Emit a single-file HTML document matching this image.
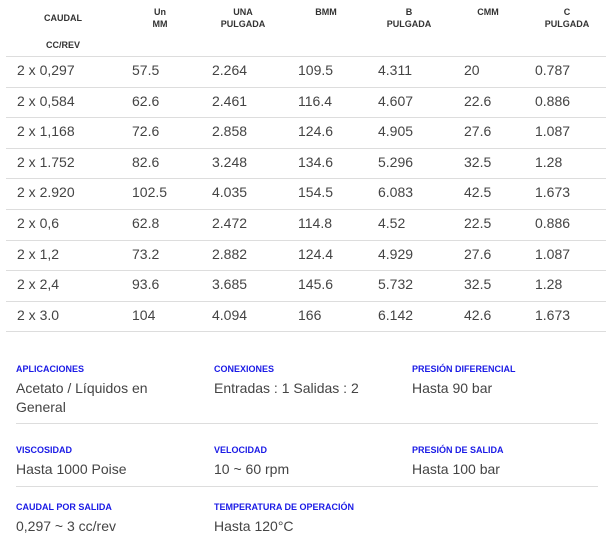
<!DOCTYPE html>
<html><head><meta charset="utf-8"><style>
body{margin:0;width:606px;height:545px;background:#fff;position:relative;font-family:"Liberation Sans",sans-serif;overflow:hidden}
.a{position:absolute;white-space:nowrap}
.h{font-size:9px;font-weight:bold;color:#333;text-align:center;line-height:12px;transform:translateX(-50%)}
.d{font-size:14px;color:#444;line-height:16px}
.l{position:absolute;height:1px;background:#ddd}
.b{font-size:9px;font-weight:bold;color:#1a1ae6;line-height:12px}
.v{font-size:14px;color:#444;line-height:19px}
</style></head><body>
<div class="a h" style="left:63px;top:12px">CAUDAL</div>
<div class="a h" style="left:63px;top:39px">CC/REV</div>
<div class="a h" style="left:160px;top:6px">Un<br>MM</div>
<div class="a h" style="left:243px;top:6px">UNA<br>PULGADA</div>
<div class="a h" style="left:326px;top:6px">BMM</div>
<div class="a h" style="left:409px;top:6px">B<br>PULGADA</div>
<div class="a h" style="left:488px;top:6px">CMM</div>
<div class="a h" style="left:567px;top:6px">C<br>PULGADA</div>
<div class="l" style="left:6px;width:600px;top:56px"></div>
<div id="rows"></div>
<script>
var r=[["2 x 0,297","57.5","2.264","109.5","4.311","20","0.787"],["2 x 0,584","62.6","2.461","116.4","4.607","22.6","0.886"],["2 x 1,168","72.6","2.858","124.6","4.905","27.6","1.087"],["2 x 1.752","82.6","3.248","134.6","5.296","32.5","1.28"],["2 x 2.920","102.5","4.035","154.5","6.083","42.5","1.673"],["2 x 0,6","62.8","2.472","114.8","4.52","22.5","0.886"],["2 x 1,2","73.2","2.882","124.4","4.929","27.6","1.087"],["2 x 2,4","93.6","3.685","145.6","5.732","32.5","1.28"],["2 x 3.0","104","4.094","166","6.142","42.6","1.673"]];
var xs=[17,132,212,298,378,464,535],h="";
for(var i=0;i<r.length;i++){var y=62+i*30.6;for(var j=0;j<7;j++)h+='<div class="a d" style="left:'+xs[j]+'px;top:'+y+'px">'+r[i][j]+'</div>';h+='<div class="l" style="left:6px;width:600px;top:'+Math.round(86.5+i*30.6)+'px"></div>';}
document.getElementById("rows").innerHTML=h;
</script>
<div class="a b" style="left:16px;top:363px">APLICACIONES</div>
<div class="a v" style="left:16px;top:379px">Acetato / Líquidos en<br>General</div>
<div class="a b" style="left:214px;top:363px">CONEXIONES</div>
<div class="a v" style="left:214px;top:379px">Entradas : 1 Salidas : 2</div>
<div class="a b" style="left:412px;top:363px">PRESIÓN DIFERENCIAL</div>
<div class="a v" style="left:412px;top:379px">Hasta 90 bar</div>
<div class="l" style="left:16px;width:582px;top:423px"></div>
<div class="a b" style="left:16px;top:444px">VISCOSIDAD</div>
<div class="a v" style="left:16px;top:460px">Hasta 1000 Poise</div>
<div class="a b" style="left:214px;top:444px">VELOCIDAD</div>
<div class="a v" style="left:214px;top:460px">10 ~ 60 rpm</div>
<div class="a b" style="left:412px;top:444px">PRESIÓN DE SALIDA</div>
<div class="a v" style="left:412px;top:460px">Hasta 100 bar</div>
<div class="l" style="left:16px;width:582px;top:486px"></div>
<div class="a b" style="left:16px;top:501px">CAUDAL POR SALIDA</div>
<div class="a v" style="left:16px;top:517px">0,297 ~ 3 cc/rev</div>
<div class="a b" style="left:214px;top:501px">TEMPERATURA DE OPERACIÓN</div>
<div class="a v" style="left:214px;top:517px">Hasta 120°C</div>
</body></html>
